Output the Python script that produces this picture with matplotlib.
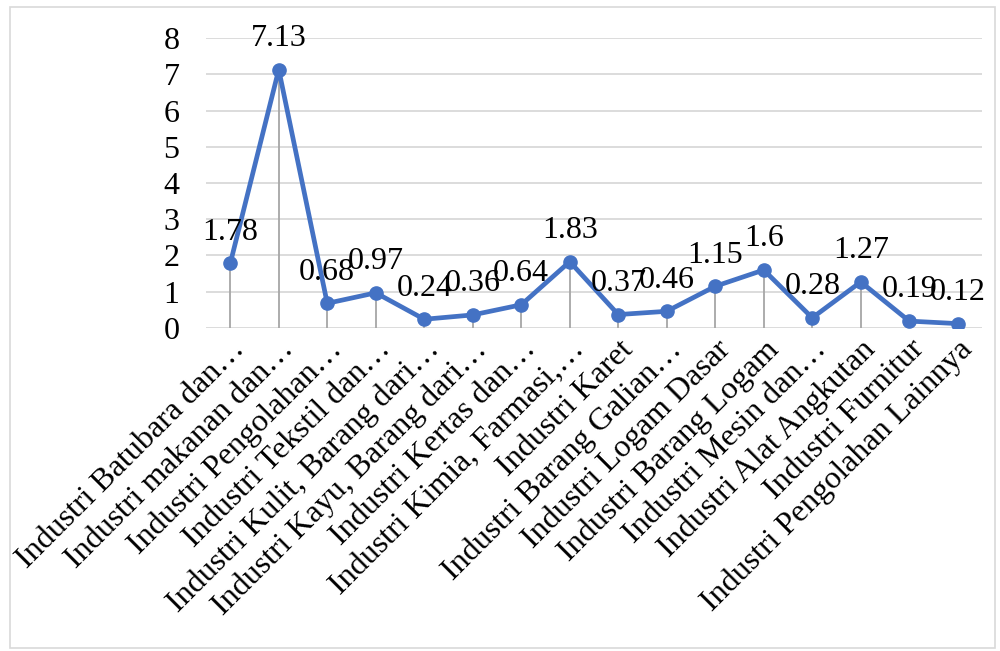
import matplotlib.pyplot as plt
from matplotlib.patches import Rectangle
from matplotlib.transforms import ScaledTranslation

plt.rcParams['font.family'] = ['Liberation Serif', 'DejaVu Serif']

categories = [
    'Industri Batubara dan…',
    'Industri makanan dan…',
    'Industri Pengolahan…',
    'Industri Tekstil dan…',
    'Industri Kulit, Barang dari…',
    'Industri Kayu, Barang dari…',
    'Industri Kertas dan…',
    'Industri Kimia, Farmasi,…',
    'Industri Karet',
    'Industri Barang Galian…',
    'Industri Logam Dasar',
    'Industri Barang Logam',
    'Industri Mesin dan…',
    'Industri Alat Angkutan',
    'Industri Furnitur',
    'Industri Pengolahan Lainnya',
]
values = [1.78, 7.13, 0.68, 0.97, 0.24, 0.36, 0.64, 1.83,
          0.37, 0.46, 1.15, 1.6, 0.28, 1.27, 0.19, 0.12]
value_labels = ['1.78', '7.13', '0.68', '0.97', '0.24', '0.36', '0.64', '1.83',
                '0.37', '0.46', '1.15', '1.6', '0.28', '1.27', '0.19', '0.12']
yticks = [0, 1, 2, 3, 4, 5, 6, 7, 8]

fig = plt.figure(figsize=(10, 6.51), dpi=100)
ax = fig.add_axes([0.206, 0.4962, 0.776, 0.4454])

# chart border
fig.patches.append(Rectangle((0.010, 0.005), 0.985, 0.984, transform=fig.transFigure,
                             fill=False, edgecolor='#D9D9D9', linewidth=1.2))

x = list(range(len(values)))

for t in yticks:
    ax.axhline(t, color='#D9D9D9', linewidth=1.3, zorder=0)

ax.vlines(x, 0, values, color='#A6A6A6', linewidth=1.3, zorder=1)
ax.plot(x, values, color='#4472C4', linewidth=3.4, marker='o',
        markersize=9.5, zorder=3)

for xi, v, lab in zip(x, values, value_labels):
    ax.annotate(lab, (xi, v), xytext=(0, 12), textcoords='offset points',
                ha='center', va='bottom', fontsize=23, color='black', zorder=4)

ax.set_xlim(-0.5, len(values) - 0.5)
ax.set_ylim(0, 8)
ax.set_yticks(yticks)
ax.set_yticklabels([str(t) for t in yticks], fontsize=23)
ax.set_xticks(x)
ax.set_xticklabels(categories, fontsize=23, rotation=45, ha='right', va='top',
                   rotation_mode='anchor')
shift = ScaledTranslation(0.06, 0, fig.dpi_scale_trans)
for lbl in ax.get_xticklabels():
    lbl.set_transform(lbl.get_transform() + shift)
ax.tick_params(axis='y', length=0, pad=19)
ax.tick_params(axis='x', length=0, pad=5)
for s in ax.spines.values():
    s.set_visible(False)

fig.savefig('out.png', dpi=100)
